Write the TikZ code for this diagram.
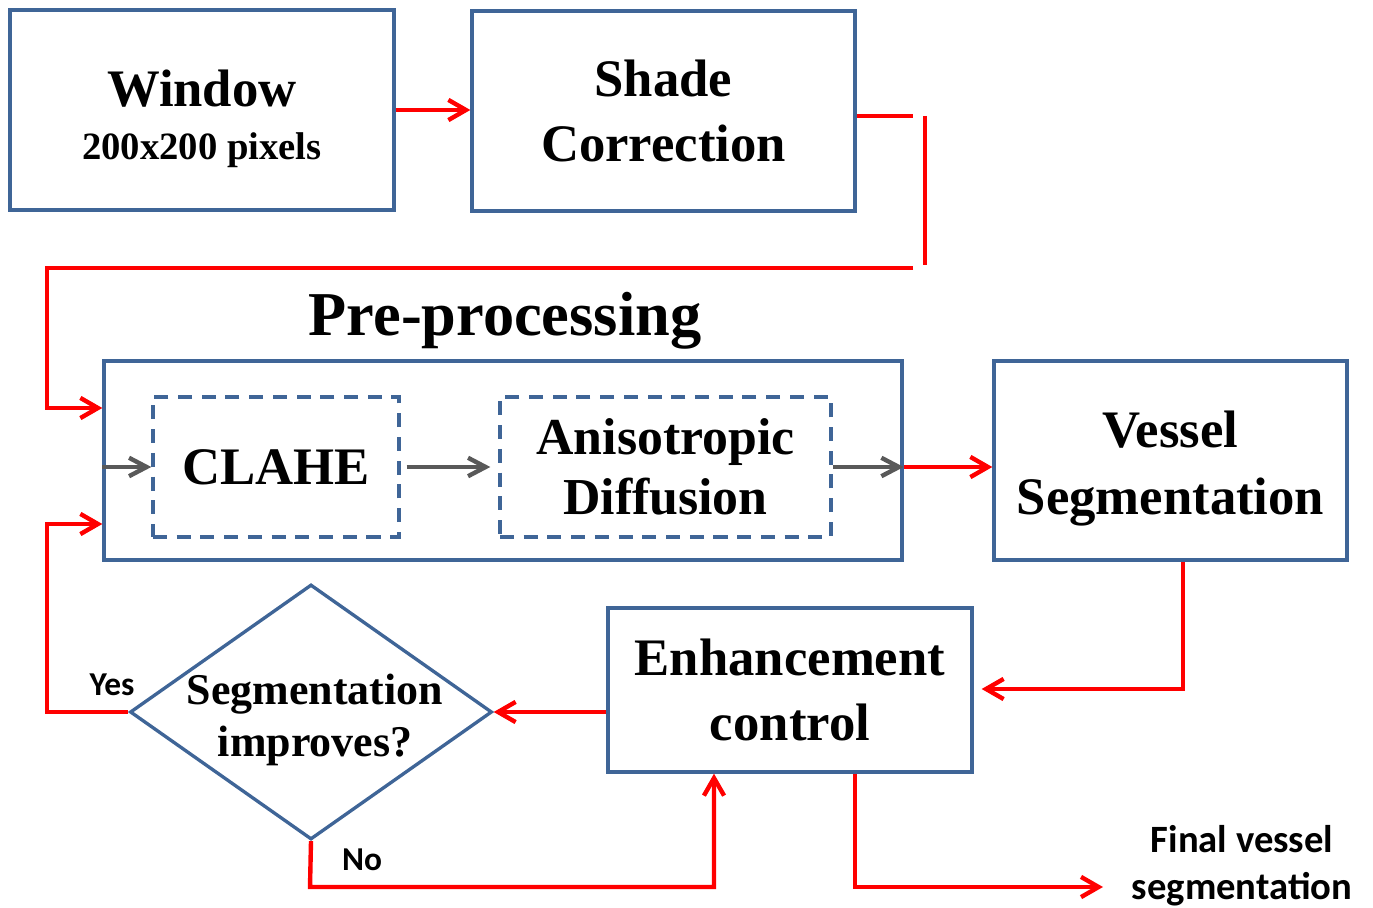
\documentclass[tikz,border=0pt]{standalone}
\usepackage{fontspec}
\setmainfont{Liberation Serif}
\newfontfamily\calib{Carlito}
\usetikzlibrary{arrows.meta,shapes.geometric}
\newcommand\pxu{0.02cm}
\definecolor{boxblue}{HTML}{3F6597}
\definecolor{arrgray}{HTML}{595959}
\begin{document}
\begin{tikzpicture}[x=0.02cm,y=-0.02cm,
  box/.style={draw=boxblue,line width=1.9pt,inner sep=0pt,align=center,
    font=\bfseries\fontsize{30}{37}\selectfont},
  dbox/.style={box,dash pattern=on 8pt off 5.5pt},
  txt/.style={inner sep=0pt,align=center},
  redline/.style={draw=red,line width=2.5pt},
  redarr/.style={redline,-{Straight Barb[length=10pt,width=11.5pt]}},
  grayarr/.style={draw=arrgray,line width=2.5pt,-{Straight Barb[length=10pt,width=10.5pt]}},
  lab/.style={inner sep=0pt,font=\calib\bfseries\fontsize{19}{23}\selectfont},
  title/.style={inner sep=0pt,font=\bfseries\fontsize{35.5}{40}\selectfont}
]
\useasboundingbox (0,0) rectangle (1373,908);

% boxes
\node[box,minimum width=384*\pxu,minimum height=200*\pxu] (win) at (202,110) {};
\node[txt,font=\bfseries\fontsize{30}{30}\selectfont] (wintext) at (202,119)
  {Window\\{\fontsize{22}{30}\selectfont 200x200 pixels}};
\node[box,minimum width=383*\pxu,minimum height=200*\pxu] (shade) at (663.5,111)
  {Shade\\Correction};
\node[title] (ptitle) at (505,321) {Pre-processing};
\node[box,minimum width=798*\pxu,minimum height=199*\pxu] (pre) at (503,460.5) {};
\node[dbox,minimum width=246*\pxu,minimum height=140*\pxu] (clahe) at (276,467) {CLAHE};
\node[dbox,minimum width=331*\pxu,minimum height=140*\pxu,
  font=\bfseries\fontsize{29.5}{34}\selectfont] (aniso) at (665.5,467)
  {Anisotropic\\Diffusion};
\node[box,minimum width=353*\pxu,minimum height=199*\pxu] (vessel) at (1170.5,460.5) {};
\node[txt,font=\bfseries\fontsize{30}{38}\selectfont] (vesseltext) at (1170.5,468.5)
  {Vessel\\Segmentation};
\node[box,minimum width=364*\pxu,minimum height=164*\pxu] (enh) at (790,690)
  {Enhancement\\control};
\node[diamond,draw=boxblue,line width=1.9pt,inner sep=0pt,
  minimum width=362*\pxu,minimum height=255*\pxu] (dec) at (311,712) {};
\node[txt,font=\bfseries\fontsize{25}{30}\selectfont]
  (dectext) at (315,720) {Segmentation\\improves?};

% labels
\node[lab] (yes) at (112,685) {Yes};
\node[lab] (no) at (362,860) {No};
\node[lab,align=center,font=\calib\bfseries\fontsize{22}{26.7}\selectfont]
  (final) at (1242,866) {Final vessel\\segmentation};

% coordinates
\coordinate (s1) at (913,116);
\coordinate (s2) at (925,116);
\coordinate (s3) at (925,265);
\coordinate (s4) at (913,268);
\coordinate (s5) at (47,268);
\coordinate (preIn) at (47,408);
\coordinate (v1) at (1183,689);
\coordinate (y1) at (47,712);
\coordinate (y2) at (47,524);
\coordinate (n1) at (310,887);
\coordinate (n2) at (714,887);
\coordinate (f1) at (855,887);
\coordinate (fend) at (1103,887);

% connectors
\draw[redarr] (win.east) -- (shade.west |- win.east);
\draw[redline] (shade.east |- s1) -- (s1);
\draw[redline] (s2) -- (s3);
\draw[redarr] (s4) -- (s5) -- (preIn) -- (pre.west |- preIn);

\draw[grayarr] (pre.west |- clahe.west) -- (clahe.west);
\draw[grayarr,shorten <=0.12cm,shorten >=0.16cm] (clahe.east) -- (aniso.west);
\draw[grayarr] (aniso.east) -- (pre.east |- aniso.east);
\draw[redarr] (pre.east |- aniso.east) -- (vessel.west |- aniso.east);

\draw[redarr,shorten >=0.16cm] (vessel.south -| v1) -- (v1) -- (enh.east |- v1);
\draw[redarr] (enh.west |- dec.east) -- (dec.east);
\draw[redarr] (dec.west) -- (y1) -- (y2) -- (pre.west |- y2);
\draw[redarr] (dec.south) -- (n1) -- (n2) -- (enh.south -| n2);
\draw[redarr] (enh.south -| f1) -- (f1) -- (fend);
\end{tikzpicture}
\end{document}
